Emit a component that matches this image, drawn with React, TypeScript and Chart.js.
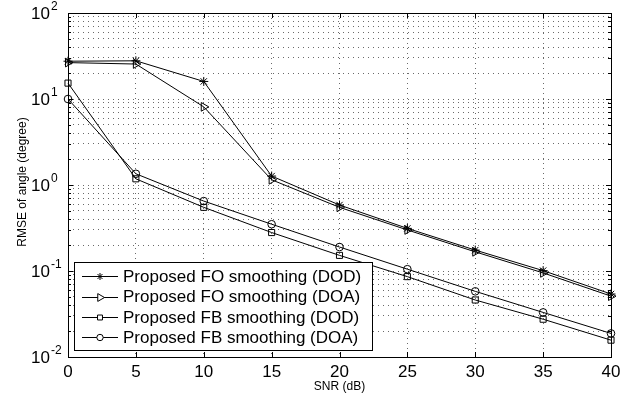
import React, { useEffect, useRef } from 'react';
import { Chart, registerables } from 'chart.js';
import { drawPoint } from 'chart.js/helpers';

Chart.register(...registerables);

// ---- data ----
const snr = [0, 5, 10, 15, 20, 25, 30, 35, 40];
const foDod = [27.5, 27.8, 16.0, 1.27, 0.585, 0.313, 0.175, 0.101, 0.054];
const foDoa = [26.5, 25.5, 8.1, 1.15, 0.55, 0.30, 0.167, 0.095, 0.051];
const fbDod = [15.3, 1.18, 0.55, 0.28, 0.152, 0.086, 0.046, 0.0275, 0.0157];
const fbDoa = [10.0, 1.35, 0.65, 0.35, 0.19, 0.105, 0.058, 0.033, 0.0188];
const seriesLabels = [
  'Proposed FO smoothing (DOD)',
  'Proposed FO smoothing (DOA)',
  'Proposed FB smoothing (DOD)',
  'Proposed FB smoothing (DOA)',
];
const xTicks = [0, 5, 10, 15, 20, 25, 30, 35, 40];
const yExponents = [-2, -1, 0, 1, 2];
const xTitle = 'SNR (dB)';
const yTitle = 'RMSE of angle (degree)';

const FONT = '"Liberation Sans", Arial, Helvetica, sans-serif';

const styles = [
  { pointStyle: 'star', radius: 4.5, rotation: 0, legendRadius: 3.5 },
  { pointStyle: 'triangle', radius: 5, rotation: 90, legendRadius: 4.5 },
  { pointStyle: 'rect', radius: 4.3, rotation: 0, legendRadius: 3.5 },
  { pointStyle: 'circle', radius: 3.8, rotation: 0, legendRadius: 3.2 },
];

function yGridValues(): number[] {
  const vals: number[] = [];
  for (let k = -2; k <= 1; k++) {
    for (let m = 1; m <= 9; m++) vals.push(Number((m * Math.pow(10, k)).toPrecision(3)));
  }
  vals.push(100);
  return vals;
}

const decorPlugin = {
  id: 'decor',
  afterDatasetsDraw(chart: any) {
    const ctx: CanvasRenderingContext2D = chart.ctx;
    const { left, right, top, bottom } = chart.chartArea;
    const xs = chart.scales.x;
    const ys = chart.scales.y;
    ctx.save();
    ctx.strokeStyle = '#000';
    ctx.lineWidth = 1;
    ctx.setLineDash([]);
    // inward tick marks
    ctx.beginPath();
    for (const v of xTicks) {
      const px = Math.round(xs.getPixelForValue(v)) + 0.5;
      ctx.moveTo(px, bottom);
      ctx.lineTo(px, bottom - 5);
      ctx.moveTo(px, top);
      ctx.lineTo(px, top + 5);
    }
    for (const v of yGridValues()) {
      const py = Math.round(ys.getPixelForValue(v)) + 0.5;
      const major = Math.abs(Math.log10(v) - Math.round(Math.log10(v))) < 1e-6;
      const len = major ? 5 : 3;
      ctx.moveTo(left, py);
      ctx.lineTo(left + len, py);
      ctx.moveTo(right, py);
      ctx.lineTo(right - len, py);
    }
    ctx.stroke();
    // box
    ctx.strokeRect(Math.round(left) + 0.5, Math.round(top) + 0.5, Math.round(right - left), Math.round(bottom - top));

    // x tick labels
    ctx.fillStyle = '#000';
    ctx.font = `17px ${FONT}`;
    ctx.textAlign = 'center';
    ctx.textBaseline = 'alphabetic';
    for (const v of xTicks) {
      ctx.fillText(String(v), xs.getPixelForValue(v), 377);
    }
    // y tick labels 10^k
    for (const e of yExponents) {
      const py = ys.getPixelForValue(Math.pow(10, e));
      ctx.font = `17px ${FONT}`;
      ctx.textAlign = 'right';
      ctx.fillText('10', 50, py + 6);
      ctx.font = `12px ${FONT}`;
      ctx.textAlign = 'left';
      ctx.fillText(String(e), 51, py - 3);
    }
    // axis titles
    ctx.font = `12px ${FONT}`;
    ctx.textAlign = 'center';
    ctx.fillText(xTitle, (left + right) / 2, 390);
    ctx.save();
    ctx.translate(25.5, 182);
    ctx.rotate(-Math.PI / 2);
    ctx.fillText(yTitle, 0, 0);
    ctx.restore();

    // legend
    const lx = 74, ly = 262, lw = 298, lh = 88;
    ctx.fillStyle = '#fff';
    ctx.fillRect(lx, ly, lw, lh);
    ctx.strokeStyle = '#000';
    ctx.strokeRect(lx + 0.5, ly + 0.5, lw, lh);
    const rowY = [276, 296.5, 317, 337];
    seriesLabels.forEach((lab, i) => {
      const y = rowY[i];
      ctx.strokeStyle = '#000';
      ctx.lineWidth = 1;
      ctx.beginPath();
      ctx.moveTo(82, Math.round(y) + 0.5);
      ctx.lineTo(118, Math.round(y) + 0.5);
      ctx.stroke();
      ctx.fillStyle = '#fff';
      drawPoint(ctx, {
        pointStyle: styles[i].pointStyle,
        radius: styles[i].legendRadius,
        rotation: styles[i].rotation,
        borderWidth: 1,
      } as any, 100, Math.round(y) + 0.5);
      ctx.fillStyle = '#000';
      ctx.font = `17px ${FONT}`;
      ctx.textAlign = 'left';
      ctx.textBaseline = 'middle';
      ctx.fillText(lab, 123, y + 1);
    });
    ctx.restore();
  },
};

export default function App() {
  const canvasRef = useRef<HTMLCanvasElement | null>(null);
  useEffect(() => {
    if (!canvasRef.current) return;
    const series = [foDod, foDoa, fbDod, fbDoa];
    const chart = new Chart(canvasRef.current, {
      type: 'line',
      data: {
        datasets: series.map((arr, i) => ({
          label: seriesLabels[i],
          data: snr.map((x, j) => ({ x, y: arr[j] })),
          borderColor: '#000',
          borderWidth: 1,
          backgroundColor: 'rgba(0,0,0,0)',
          pointStyle: styles[i].pointStyle as any,
          pointRadius: styles[i].radius,
          pointRotation: styles[i].rotation,
          pointBorderColor: '#000',
          pointBackgroundColor: 'rgba(0,0,0,0)',
          pointBorderWidth: 1,
          tension: 0,
          clip: false as any,
        })),
      },
      options: {
        animation: false,
        responsive: false,
        events: [],
        layout: { padding: { left: 68, right: 28, top: 13, bottom: 43 } },
        plugins: { legend: { display: false }, tooltip: { enabled: false } },
        scales: {
          x: {
            type: 'linear',
            min: 0,
            max: 40,
            afterBuildTicks: (s: any) => {
              s.ticks = xTicks.map((v) => ({ value: v }));
            },
            ticks: { display: false },
            grid: { color: '#6a6a6a', lineWidth: 1, drawTicks: false },
            border: { display: false, dash: [1, 4] },
          },
          y: {
            type: 'logarithmic',
            min: 0.01,
            max: 100,
            afterBuildTicks: (s: any) => {
              s.ticks = yGridValues().map((v) => ({ value: v }));
            },
            ticks: { display: false },
            grid: { color: '#6a6a6a', lineWidth: 1, drawTicks: false },
            border: { display: false, dash: [1, 4] },
          },
        },
      },
      plugins: [decorPlugin],
    });
    return () => chart.destroy();
  }, []);
  return (
    <div style={{ position: 'fixed', left: 0, top: 0, width: 639, height: 400, background: '#fff' }}>
      <canvas ref={canvasRef} width={639} height={400} style={{ display: 'block' }} />
    </div>
  );
}
